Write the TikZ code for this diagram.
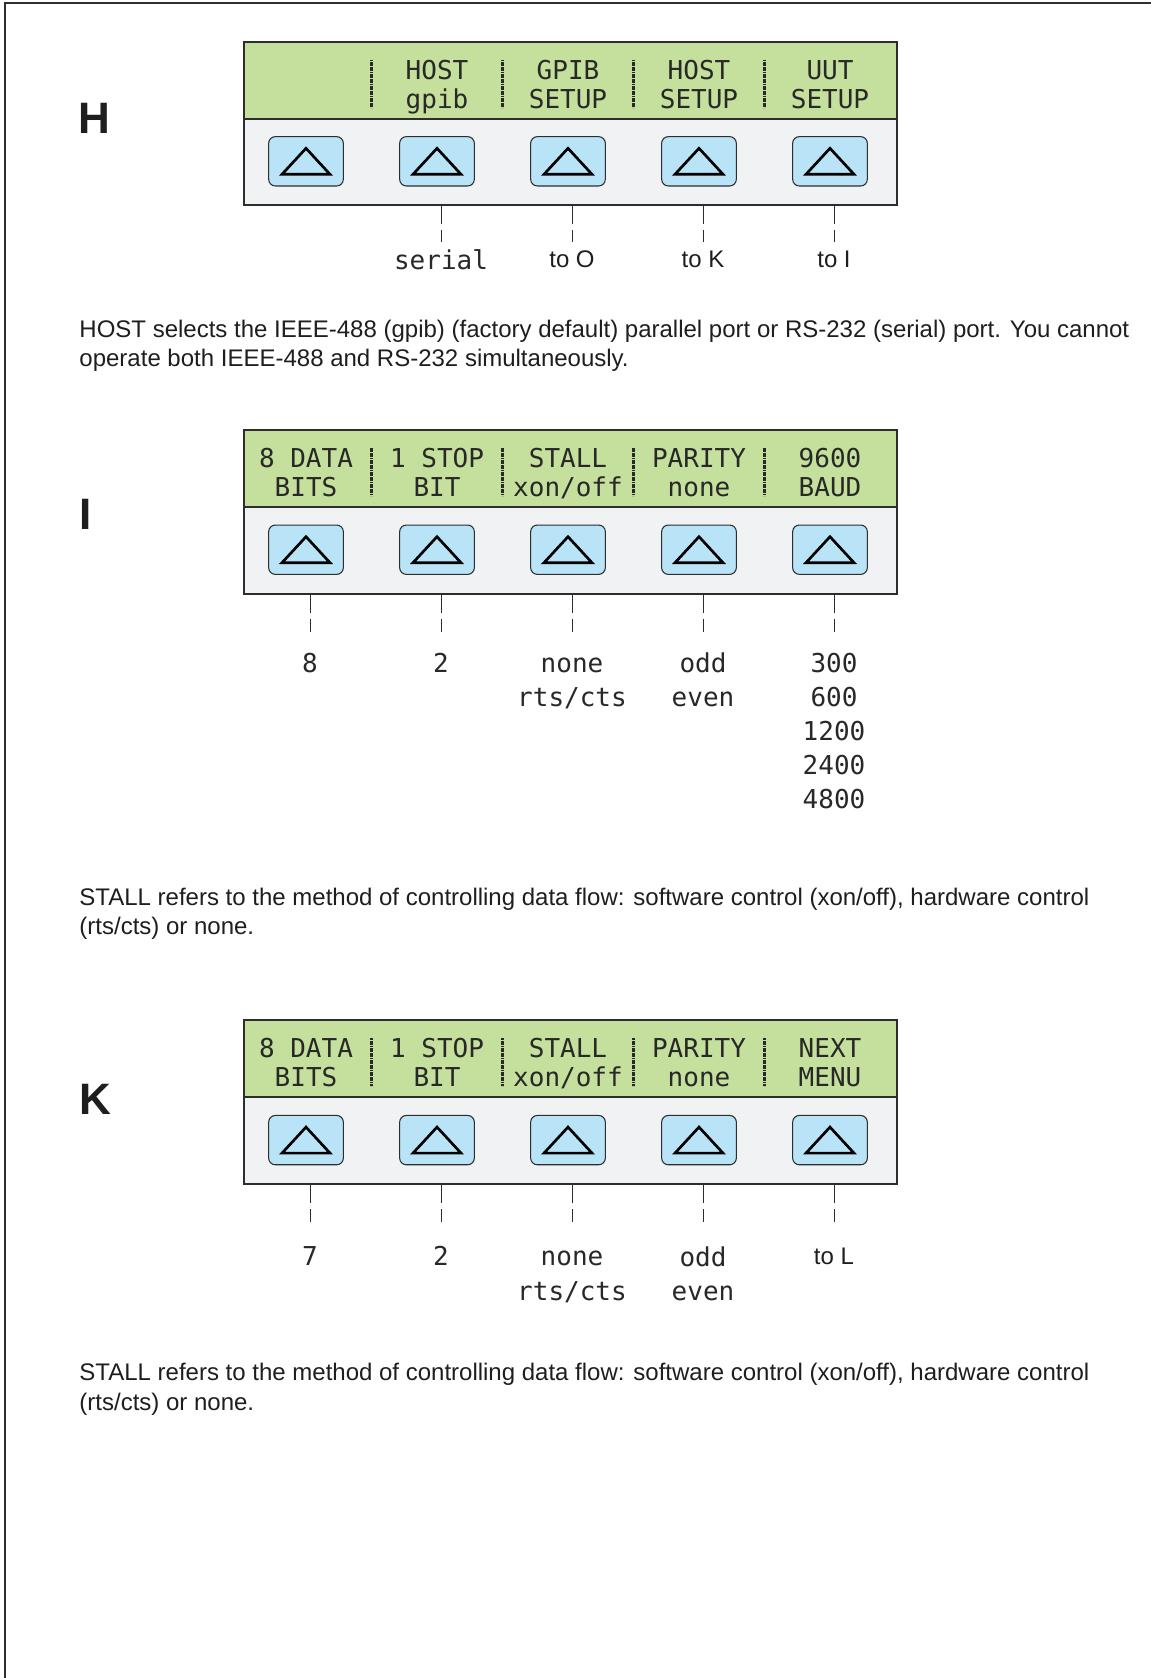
\documentclass[tikz,border=0pt]{standalone}
\usepackage{fontspec}
\setmainfont{Liberation Sans}
\newfontfamily\lcdfont{DejaVu Sans Mono}
\usetikzlibrary{positioning,calc}
\definecolor{PanelEdge}{RGB}{45,45,45}
\definecolor{PanelGreen}{RGB}{197,223,156}
\definecolor{PanelGrey}{RGB}{241,242,244}
\definecolor{KeyBlue}{RGB}{185,228,247}
\definecolor{LcdInk}{RGB}{40,40,40}
\definecolor{BodyInk}{RGB}{30,30,30}
\tikzset{
  panel box/.style={draw=PanelEdge, line width=1.5pt, fill=PanelGrey, anchor=north west,
    minimum width=490pt, minimum height=122.8pt, inner sep=0pt},
  panel lcd/.style={draw=PanelEdge, line width=1.5pt, fill=PanelGreen, anchor=north west,
    minimum width=490pt, minimum height=57.8pt, inner sep=0pt},
  soft key/.style={draw=PanelEdge, line width=0.8pt, fill=KeyBlue, rounded corners=5pt,
    minimum width=56pt, minimum height=37pt, inner sep=0pt},
  key mark/.style={draw=black, line width=2pt},
  lcd sep/.style={draw=LcdInk, line width=2pt, dash pattern=on 1.3pt off 0.5pt},
  lcd text/.style={font=\lcdfont\fontsize{19.5}{21.75}\selectfont, text=LcdInk,
    align=center, inner sep=0pt, anchor=base},
  key value/.style={lcd text, font=\lcdfont\fontsize{19.5}{25.65}\selectfont, anchor=north},
  key jump/.style={font=\fontsize{18}{21.75}\selectfont, text=BodyInk, anchor=north,
    inner sep=0pt, text height=12.9pt},
  key tick/.style={draw=PanelEdge, line width=0.6pt, dash pattern=on 13.5pt off 4.5pt on 10pt off 40pt},
  step letter/.style={font=\fontsize{33}{33}\selectfont\bfseries, text=BodyInk,
    inner sep=0pt, text height=23.6pt, text depth=0pt},
  body text/.style={font=\fontsize{18}{22}\selectfont, text=BodyInk, align=left,
    anchor=base west, inner sep=0pt}
}

\begin{document}
\begin{tikzpicture}[x=0.75pt, y=0.75pt]
\useasboundingbox (0,0) rectangle (1151,-1678);
\draw[PanelEdge, line width=1.5pt] (1151,-3.2) -- (5.3,-3.2) -- (5.3,-1678);

% H: host menu
\node[step letter] (hlet) at (94,-117.7) {H};
\node[panel box] (hpanel) at (242.8,-40.6) {};
\node[panel lcd] (hlcd) at (242.8,-40.6) {};
\foreach \i in {1,...,5} {
  \node[soft key] (hk\i) at ({306+131*(\i-1)},-161.3) {};
  \draw[key mark] (hk\i.center) ++(-24,-13) -- ++(48,0) -- ++(-24,26) -- cycle;
}
\foreach \x in {371.5,502.5,633.5,764.5} \draw[lcd sep] (\x,-59.6) -- (\x,-107.6);
\node[lcd text] (ht2) at (437,-108.1) {HOST\\gpib};
\node[lcd text] (ht3) at (568,-108.1) {GPIB\\SETUP};
\node[lcd text] (ht4) at (699,-108.1) {HOST\\SETUP};
\node[lcd text] (ht5) at (830,-108.1) {UUT\\SETUP};
\node[key value] (hv2) at (441,-249.5) {serial};
\node[key jump] (hv3) at (572,-250.3) {to O};
\node[key jump] (hv4) at (703,-250.3) {to K};
\node[key jump] (hv5) at (834,-250.3) {to I};
\foreach \i in {2,...,5} \draw[key tick] (hpanel.south -| hv\i) -- ++(0,-36);

\node[body text] (hnote) at (79.2,-366.5) {HOST selects the IEEE-488 (gpib) (factory default) parallel port or RS-232 (serial) port. You cannot\\operate both IEEE-488 and RS-232 simultaneously.};

% I: serial setup
\node[step letter] (ilet) at (85.6,-513.5) {I};
\node[panel box] (ipanel) at (242.8,-429) {};
\node[panel lcd] (ilcd) at (242.8,-429) {};
\foreach \i in {1,...,5} {
  \node[soft key] (ik\i) at ({306+131*(\i-1)},-549.7) {};
  \draw[key mark] (ik\i.center) ++(-24,-13) -- ++(48,0) -- ++(-24,26) -- cycle;
}
\foreach \x in {371.5,502.5,633.5,764.5} \draw[lcd sep] (\x,-448) -- (\x,-496);
\node[lcd text] (it1) at (306,-496.5) {8 DATA\\BITS};
\node[lcd text] (it2) at (437,-496.5) {1 STOP\\BIT};
\node[lcd text] (it3) at (568,-496.5) {STALL\\xon/off};
\node[lcd text] (it4) at (699,-496.5) {PARITY\\none};
\node[lcd text] (it5) at (830,-496.5) {9600\\BAUD};
\node[key value] (iv1) at (310,-652.6) {8};
\node[key value] (iv2) at (441,-652.6) {2};
\node[key value] (iv3) at (572,-652.6) {\vphantom{0}none\\rts/cts};
\node[key value] (iv4) at (703,-652.6) {odd\\even};
\node[key value] (iv5) at (834,-652.6) {300\\600\\1200\\2400\\4800};
\foreach \i in {1,...,5} \draw[key tick] (ipanel.south -| iv\i) -- ++(0,-37);

\node[body text] (inote) at (79.2,-934.5) {STALL refers to the method of controlling data flow: software control (xon/off), hardware control\\(rts/cts) or none.};

% K: serial setup, next menu
\node[step letter] (klet) at (95.2,-1098.6) {K};
\node[panel box] (kpanel) at (242.8,-1019.4) {};
\node[panel lcd] (klcd) at (242.8,-1019.4) {};
\foreach \i in {1,...,5} {
  \node[soft key] (kk\i) at ({306+131*(\i-1)},-1140.1) {};
  \draw[key mark] (kk\i.center) ++(-24,-13) -- ++(48,0) -- ++(-24,26) -- cycle;
}
\foreach \x in {371.5,502.5,633.5,764.5} \draw[lcd sep] (\x,-1038.4) -- (\x,-1086.4);
\node[lcd text] (kt1) at (306,-1086.9) {8 DATA\\BITS};
\node[lcd text] (kt2) at (437,-1086.9) {1 STOP\\BIT};
\node[lcd text] (kt3) at (568,-1086.9) {STALL\\xon/off};
\node[lcd text] (kt4) at (699,-1086.9) {PARITY\\none};
\node[lcd text] (kt5) at (830,-1086.9) {NEXT\\MENU};
\node[key value] (kv1) at (310,-1246.3) {7};
\node[key value] (kv2) at (441,-1246.3) {2};
\node[key value] (kv3) at (572,-1246.3) {\vphantom{0}none\\rts/cts};
\node[key value] (kv4) at (703,-1246.3) {odd\\even};
\node[key jump] (kv5) at (834,-1247.2) {to L};
\foreach \i in {1,...,5} \draw[key tick] (kpanel.south -| kv\i) -- ++(0,-40);

\node[body text] (knote) at (79.2,-1410) {STALL refers to the method of controlling data flow: software control (xon/off), hardware control\\(rts/cts) or none.};
\end{tikzpicture}
\end{document}
